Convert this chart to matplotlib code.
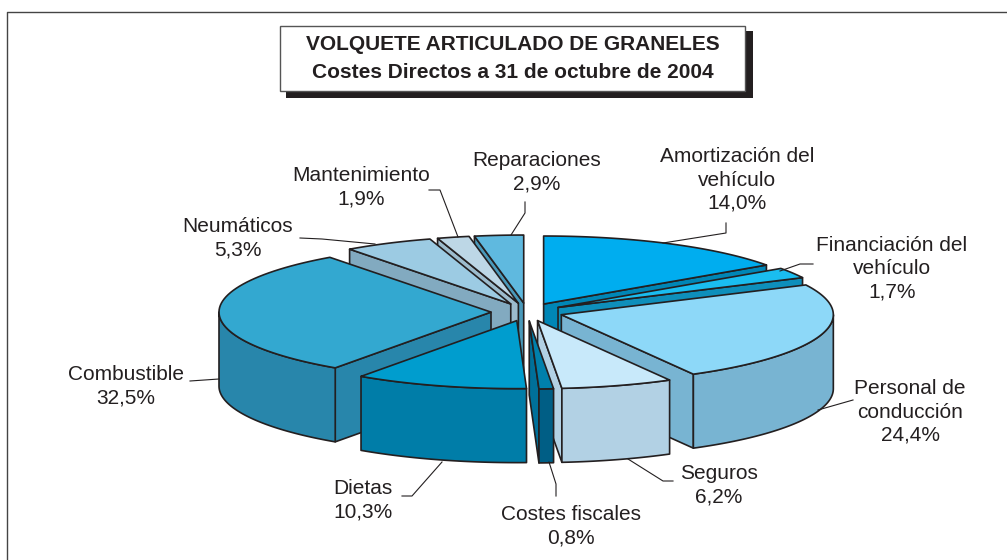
import matplotlib as mpl
mpl.use('agg')
import matplotlib.pyplot as plt
from matplotlib.patches import Polygon, Rectangle
import numpy as np

plt.rcParams['font.family'] = ['Liberation Sans', 'DejaVu Sans']

# clockwise from 12 o'clock
names = ['Amortización del\nvehículo', 'Financiación del\nvehículo', 'Personal de\nconducción',
         'Seguros', 'Costes fiscales', 'Dietas', 'Combustible', 'Neumáticos',
         'Mantenimiento', 'Reparaciones']
values = [14.0, 1.7, 24.4, 6.2, 0.8, 10.3, 32.5, 5.3, 1.9, 2.9]

top_cols = ['#00adef', '#1abdf0', '#8dd8f8', '#c8e9fa', '#0080ac',
            '#009dce', '#33a8d0', '#9ccbe3', '#bdd7e6', '#5fb9df']
wall_cols = ['#0086b6', '#0e8fbb', '#78b4d2', '#b2d1e4', '#005e85',
             '#007da8', '#2886ab', '#82aac0', '#9dbccd', '#4a99ba']
cut_cols = ['#0086b6', '#0e8fbb', '#78b4d2', '#b2d1e4', '#00709a',
            '#007da8', '#2886ab', '#82aac0', '#9dbccd', '#4a99ba']

# painter order, back to front
draw_order = [9, 8, 7, 0, 1, 2, 6, 5, 3, 4]

ink = '#231f20'
cx, cy = 527, 312
rx, ry = 272, 68
depth = 74
explode = 36


def warp(a):
    # the printed pie is not a true ellipse, front slices sit a few degrees further round
    return np.interp(a, [0, 50.4, 56.5, 144.4, 169.6, 206.7, 324, 360],
                     [0, 55, 64, 151, 178, 215, 324, 360])


def rim(a, ox, oy, dz=0):
    t = np.radians(a)
    return np.column_stack([ox + rx * np.sin(t), oy - ry * np.cos(t) + dz])


fig = plt.figure(figsize=(10.07, 5.6), dpi=100)
ax = fig.add_axes([0, 0, 1, 1])
ax.set_xlim(0, 1007)
ax.set_ylim(560, 0)
ax.axis('off')

# outer frame, only top and left are on the page
ax.plot([7, 7, 1007], [560, 12, 12], color='#444444', lw=1.0)

# title box
ax.add_patch(Rectangle((286, 31), 467, 67, fc=ink, ec='none'))
ax.add_patch(Rectangle((280, 26), 465, 65, fc='white', ec='#555555', lw=1.0))
ax.text(513, 45, 'VOLQUETE ARTICULADO DE GRANELES', ha='center', va='center',
        fontsize=15, fontweight='bold', color=ink)
ax.text(513, 73, 'Costes Directos a 31 de octubre de 2004', ha='center', va='center',
        fontsize=15, fontweight='bold', color=ink)

edges = np.concatenate([[0], np.cumsum(values)]) / sum(values) * 360

for i in draw_order:
    a0, a1 = edges[i], edges[i + 1]
    mid = np.radians(warp((a0 + a1) / 2))
    ox = cx + explode * np.sin(mid)
    oy = cy - explode * 0.25 * np.cos(mid)
    b0, b1 = warp(a0), warp(a1)
    arc = np.linspace(b0, b1, 60)
    kw = dict(ec=ink, lw=1.2, joinstyle='round')

    # cut faces, only those turned to the viewer
    for b, show in ((b0, 180 < b0 < 360), (b1, 0 < b1 < 180)):
        if show:
            tip = rim(b, ox, oy)[0]
            ax.add_patch(Polygon([(ox, oy), tip, tip + (0, depth), (ox, oy + depth)], fc=cut_cols[i], **kw))

    # outer wall, front half only
    lo, hi = max(b0, 90), min(b1, 270)
    if hi > lo:
        w = np.linspace(lo, hi, 60)
        pts = np.vstack([rim(w, ox, oy), rim(w[::-1], ox, oy, depth)])
        ax.add_patch(Polygon(pts, fc=wall_cols[i], **kw))

    # top face
    ax.add_patch(Polygon(np.vstack([[(ox, oy)], rim(arc, ox, oy)]), fc=top_cols[i], **kw))

# leader lines
leaders = [([525, 525, 511], [202, 213, 235]),
           ([429, 440, 458], [190, 190, 237]),
           ([300, 322, 375], [238, 239, 244]),
           ([726, 726, 663], [223, 233, 243]),
           ([813, 800, 780], [264, 264, 271]),
           ([853, 818], [400, 410]),
           ([549, 556, 556], [462, 484, 496]),
           ([628, 663, 673], [459, 481, 481]),
           ([442, 412, 402], [462, 496, 496]),
           ([219, 190], [379, 381])]
for xs, ys in leaders:
    ax.plot(xs, ys, color=ink, lw=0.8)

# labels, same order as names
label_x = [737, 892, 910, 719, 571, 363, 126, 238, 361, 537]
label_y = [180, 269, 412, 485, 526, 500, 386, 238, 187, 172]
for n, v, x, y in zip(names, values, label_x, label_y):
    txt = '%s\n%s%%' % (n, ('%.1f' % v).replace('.', ','))
    ax.text(x, y, txt, ha='center', va='center', fontsize=15, color=ink, linespacing=1.27)

fig.savefig('out.png', dpi=100)
plt.close(fig)
